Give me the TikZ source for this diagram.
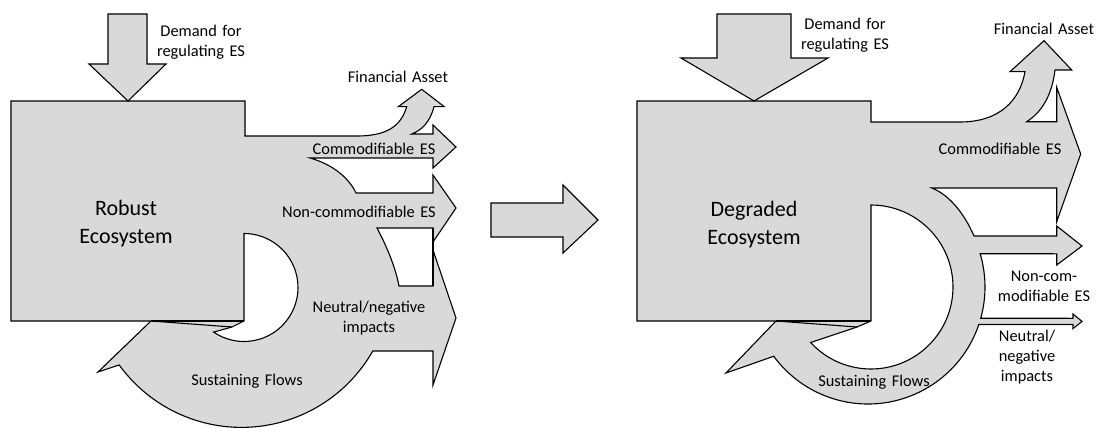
\documentclass[tikz,border=0pt]{standalone}
\usepackage{fontspec}
\setmainfont{Carlito}[WordSpace=1.5]
\definecolor{fillgrey}{HTML}{D9D9D9}
\tikzset{
  shapefill/.style={fill=fillgrey, draw=black, line width=1.1pt, line join=miter, even odd rule},
  edgeline/.style={draw=black, line width=1.1pt, line join=miter},
  lbl/.style={font=\fontsize{16.4}{20}\selectfont, align=center, inner sep=0pt, text=black},
  biglbl/.style={font=\fontsize{22}{28}\selectfont, align=center, inner sep=0pt, text=black}
}
\begin{document}
\begin{tikzpicture}[x=1pt,y=-1pt]
\useasboundingbox (0,0) rectangle (1096,428);

% ===== Left: robust ecosystem =====
\path[shapefill]
  (11,101) -- (245,101) -- (245,136) -- (357,136)
  .. controls (392,136) and (402,122) .. (406.7,106.7)
  -- (398.3,106.7) -- (421.7,89.3) -- (444.3,106.7) -- (434,106.7)
  .. controls (430,122) and (422,130) .. (411.7,134)
  -- (433,134) -- (433,125) -- (456,147) -- (433,168) -- (433,158)
  -- (310,158) .. controls (335,165) and (350,180) .. (356,193)
  -- (433,193) -- (433,175) -- (456,208) -- (433,242) -- (433,228)
  -- (377,228) .. controls (385,243) and (395,265) .. (399,286)
  -- (433,286) -- (433,250) -- (456,318) -- (433,385) -- (433,351)
  -- ([shift={(241.5,276.4)}]29.6:151) arc[start angle=29.6, end angle=144.1, radius=151]
  -- (98,372) -- (151,321) -- (11,321) -- cycle
  (244,233.5) -- (244,321) -- (232,327) -- ([shift={(244,287.5)}]124.3:54)
  arc[start angle=124.3, end angle=-90, radius=54] -- cycle;
\draw[edgeline] (151,321) -- (244,321);
\draw[edgeline] (151,321) -- (232,327);
\draw[edgeline] (433,228) -- (433,286);

% demand arrow left
\path[shapefill] (108,14) -- (147,14) -- (147,64) -- (166,64) -- (128,101) -- (89,64) -- (108,64) -- cycle;

% ===== middle arrow =====
\path[shapefill] (491,203) -- (563,203) -- (563,185) -- (598,220) -- (563,253) -- (563,237) -- (491,237) -- cycle;

% ===== Right: degraded ecosystem =====
\path[shapefill]
  (637,101) -- (871,101) -- (871,122) -- (960,122)
  .. controls (1000,122) and (1020,100) .. (1025,71.7)
  -- (1010,71.7) -- (1044,40.7) -- (1071.7,70) -- (1055,70)
  .. controls (1052,95) and (1042,112) .. (1026.7,121.7)
  -- (1056.7,121.7) -- (1056.7,87.3) -- (1080.7,154) -- (1056.7,221.7) -- (1056.7,188)
  -- (931.7,188) .. controls (950,195) and (965,215) .. (974,236)
  -- (1056.7,236) -- (1056.7,226) -- (1082,246) -- (1056.7,265) -- (1056.7,253.8)
  -- ([shift={(868,287)}]-16.5:117) arc[start angle=-16.5, end angle=15.5, radius=117]
  -- (1073,318.3) -- (1073,314) -- (1082,321.4) -- (1073,328.6) -- (1073,324.5)
  -- ([shift={(868,287)}]18.7:117) arc[start angle=18.7, end angle=143.7, radius=117]
  -- (726,373) -- (776,321) -- (637,321) -- cycle
  (871,205) -- (871,321) -- (857,327) -- ([shift={(871,287)}]137.4:82)
  arc[start angle=137.4, end angle=-90, radius=82] -- cycle;
\draw[edgeline] (776,321) -- (871,321);
\draw[edgeline] (776,321) -- (857,327);

% demand arrow right
\path[shapefill] (717,14) -- (791,14) -- (791,58) -- (828,58) -- (754,101) -- (681,58) -- (717,58) -- cycle;

% ===== labels =====
\node[lbl] (demL) at (201,42) {Demand for\\regulating ES};
\node[lbl] (faL) at (398,77) {Financial Asset};
\node[lbl] (comL) at (374,149) {Commodifiable ES};
\node[lbl] (ncomL) at (359,212) {Non-commodifiable ES};
\node[lbl] (neuL) at (369,318.5) {Neutral/negative\\impacts};
\node[lbl] (susL) at (247,381) {Sustaining Flows};
\node[biglbl] (ecoL) at (126,224) {Robust\\Ecosystem};

\node[lbl] (demR) at (845,35.5) {Demand for\\regulating ES};
\node[lbl] (faR) at (1044,29) {Financial Asset};
\node[lbl] (comR) at (1000,149) {Commodifiable ES};
\node[lbl] (ncomR) at (1044,286) {Non-com-\\modifiable ES};
\node[lbl] (neuR) at (1027,357) {Neutral/\\negative\\impacts};
\node[lbl] (susR) at (874,382) {Sustaining Flows};
\node[biglbl] (ecoR) at (754,224.5) {Degraded\\Ecosystem};
\end{tikzpicture}
\end{document}
